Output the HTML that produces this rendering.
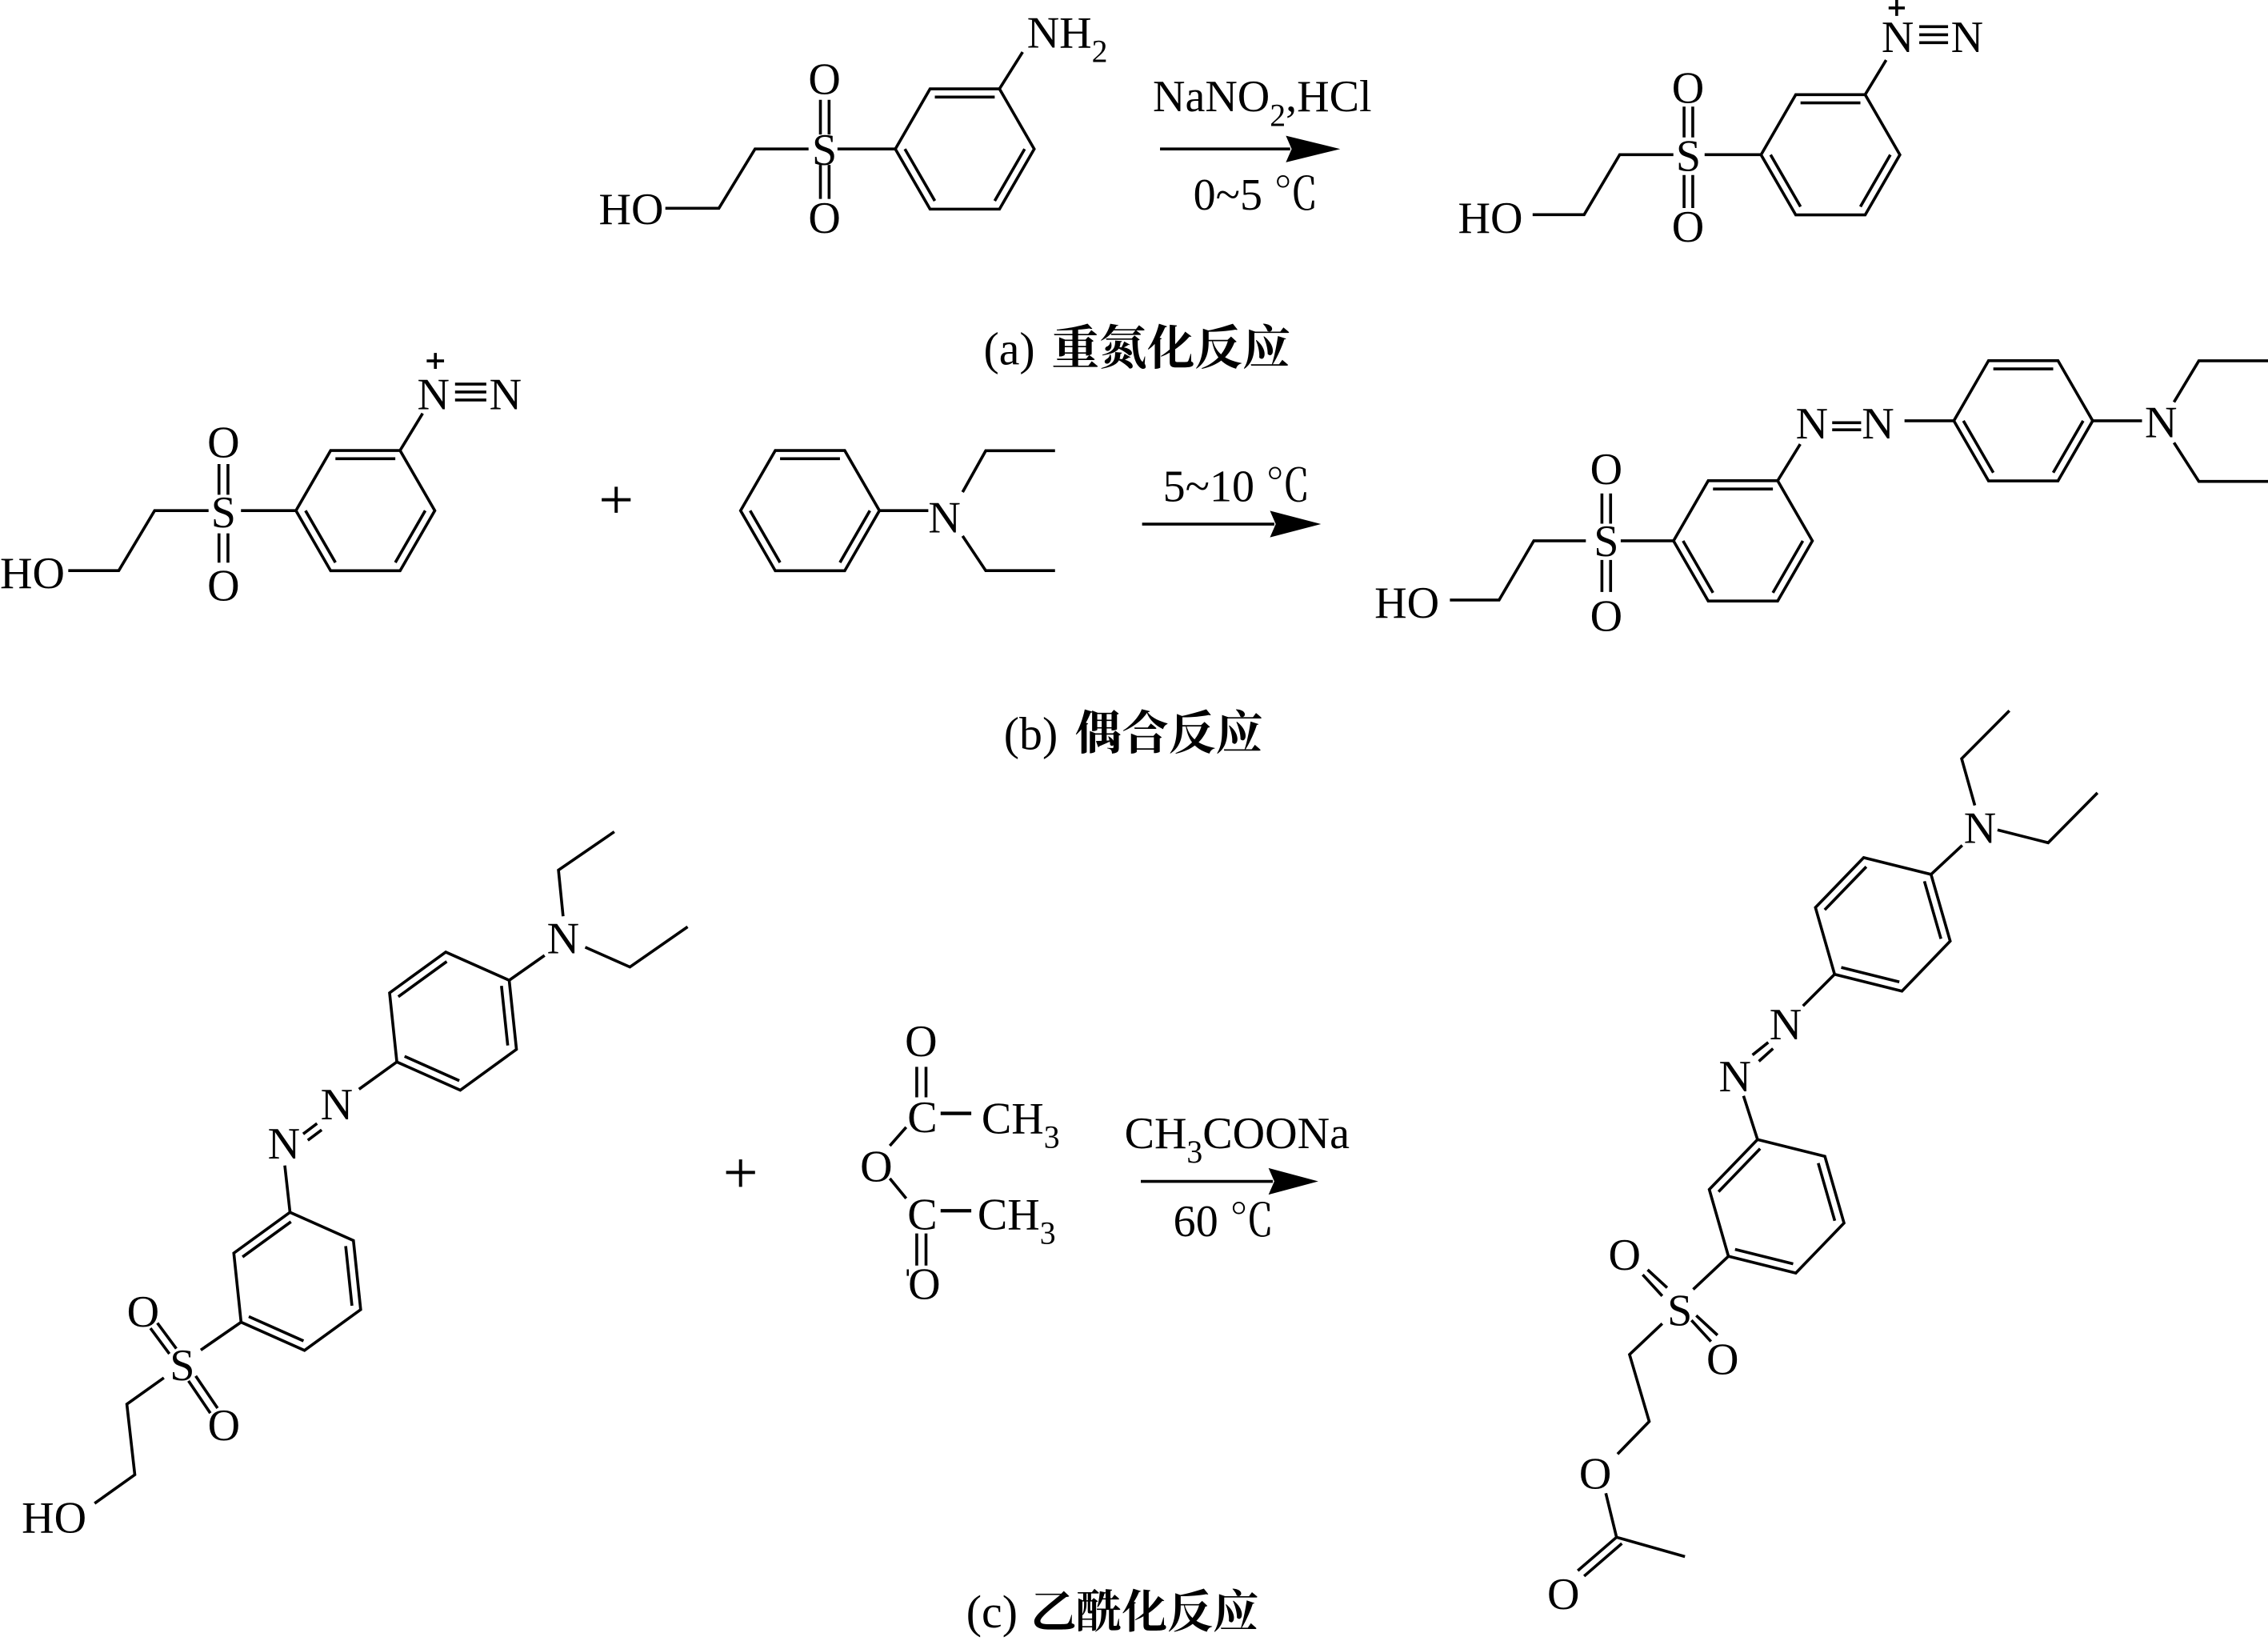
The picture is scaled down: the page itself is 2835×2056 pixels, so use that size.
<!DOCTYPE html>
<html>
<head>
<meta charset="utf-8">
<style>
  html,body{margin:0;padding:0;background:#fff;}
  svg{display:block;}
  .t{font-family:"Liberation Serif","Noto Serif CJK SC",serif;font-size:31px;fill:#000;}
  .c{font-family:"Noto Serif CJK SC","Noto Sans CJK SC",serif;font-weight:bold;fill:#000;}
</style>
</head>
<body>
<svg xmlns="http://www.w3.org/2000/svg" xmlns:xlink="http://www.w3.org/1999/xlink" width="2835" height="2056" viewBox="0 0 1568 1137.2" preserveAspectRatio="none">
<defs>
  <g id="r">
    <path d="M48,0 L24,41.57 L-24,41.57 L-48,0 L-24,-41.57 L24,-41.57 Z"/>
    <path d="M-20.7,-35.87 L20.7,-35.87 M-41.4,0 L-20.7,35.87 M41.4,0 L20.7,35.87"/>
  </g>
</defs>
<rect x="0" y="0" width="1568" height="1137.2" fill="#fff"/>

<g fill="none" stroke="#000" stroke-width="2" stroke-linejoin="miter">
  <!-- ===== Reaction (a) left ===== -->
  <path d="M460,144 L497,144 L522,103 L559,103"/>
  <path d="M579,103 L619,103"/>
  <path d="M567.2,69 L567.2,93 M573.2,69 L573.2,93 M567.2,114 L567.2,137.5 M573.2,114 L573.2,137.5"/>
  <use xlink:href="#r" transform="translate(667,103)"/>
  <path d="M691,61.4 L707,36"/>

  <!-- arrow a -->
  <path d="M802,103 L892,103"/>

  <!-- ===== Reaction (a) product ===== -->
  <path d="M1059.6,148.4 L1095.2,148.4 L1119.8,106.9 L1156.9,106.9"/>
  <path d="M1178.5,106.9 L1217.5,106.9"/>
  <path d="M1164.3,73.7 L1164.3,95 M1170.3,73.7 L1170.3,95 M1164.3,121 L1164.3,143.8 M1170.3,121 L1170.3,143.8"/>
  <use xlink:href="#r" transform="translate(1265.5,107)"/>
  <path d="M1289.5,65.4 L1304,41.5"/>
  <path d="M1326.9,18.4 L1346.8,18.4 M1326.9,24 L1346.8,24 M1326.9,29.5 L1346.8,29.5"/>
  <path d="M1305.7,5.5 L1316.9,5.5 M1311.3,0 L1311.3,11"/>

  <!-- ===== Reaction (b) left ===== -->
  <path d="M47.2,394.5 L82.1,394.5 L106.9,353 L144.2,353"/>
  <path d="M166.6,353 L204.6,353"/>
  <path d="M151.4,320.8 L151.4,342 M157.6,320.8 L157.6,342 M151.4,368.7 L151.4,389 M157.6,368.7 L157.6,389"/>
  <use xlink:href="#r" transform="translate(252.6,353)"/>
  <path d="M276.6,311.4 L292.2,285.8"/>
  <path d="M314.6,265.5 L336.2,265.5 M314.6,271 L336.2,271 M314.6,276.5 L336.2,276.5"/>
  <path d="M295,249.5 L307,249.5 M301,244 L301,255"/>

  <!-- plus b -->
  <path d="M416,345.5 L436,345.5 M426,336.5 L426,354.5" stroke-width="2.2"/>

  <!-- diethylaniline -->
  <use xlink:href="#r" transform="translate(560,353)"/>
  <path d="M608,353 L641.8,353"/>
  <path d="M665.5,340.2 L681.5,311.6 L729.4,311.6"/>
  <path d="M665.5,370.5 L681.5,394.5 L729.4,394.5"/>

  <!-- arrow b -->
  <path d="M789.6,362.3 L881,362.3"/>

  <!-- ===== Reaction (b) product ===== -->
  <path d="M1002.4,414.8 L1036.4,414.8 L1060.4,373.9 L1096.4,373.9"/>
  <path d="M1120.5,373.9 L1157,373.9"/>
  <path d="M1107.5,341.1 L1107.5,362 M1113.5,341.1 L1113.5,362 M1107.5,387.1 L1107.5,409.2 M1113.5,387.1 L1113.5,409.2"/>
  <use xlink:href="#r" transform="translate(1205,373.9)"/>
  <path d="M1229,332.3 L1244.6,307"/>
  <path d="M1266.7,292.2 L1286.7,292.2 M1266.7,297.1 L1286.7,297.1"/>
  <path d="M1316.7,290.9 L1350.8,290.9"/>
  <use xlink:href="#r" transform="translate(1398.8,290.9)"/>
  <path d="M1446.8,290.9 L1480.9,290.9"/>
  <path d="M1503,278 L1520.2,249.4 L1568,249.4"/>
  <path d="M1503,306 L1520.2,332.8 L1568,332.8"/>

  <!-- ===== Reaction (c) left ===== -->
  <path d="M65.4,1039.3 L93.2,1019.5 L87.7,970.7 L113.3,952.5"/>
  <path d="M138.8,933.3 L166.7,914"/>
  <path d="M121.9,932.3 L108.8,914.6 M117.1,935.9 L104,918.2"/>
  <path d="M135.3,951.2 L150.4,973.5 M130.3,954.6 L145.4,976.9"/>
  <use xlink:href="#r" transform="translate(205.5,885.8) rotate(-36)"/>
  <path d="M200.5,838.1 L196.9,805.7"/>
  <path d="M209.6,783.9 L219.2,776.7 M212.8,788.3 L222.4,781.1"/>
  <path d="M248.2,753 L274.4,734.1"/>
  <use xlink:href="#r" transform="translate(313.2,705.9) rotate(-36)"/>
  <path d="M352,677.7 L376.5,660.5"/>
  <path d="M389.3,633.4 L386.1,601.5 L424.7,575"/>
  <path d="M404.6,654.8 L435.5,668.5 L475.4,640.7"/>

  <!-- plus c -->
  <path d="M502,810.5 L522,810.5 M512,801.5 L512,820.5" stroke-width="2.2"/>

  <!-- acetic anhydride -->
  <path d="M633.8,737.5 L633.8,758.6 M640.2,737.5 L640.2,758.6"/>
  <path d="M650.3,769.7 L671.5,769.7" stroke-width="2.4"/>
  <path d="M626.5,779.2 L615.2,792.1"/>
  <path d="M615.2,814.7 L626.5,828.5"/>
  <path d="M650.3,837 L671.5,837" stroke-width="2.4"/>
  <path d="M633.8,852.7 L633.8,874.9 M640.2,852.7 L640.2,874.9"/>
  <path d="M627.6,877.5 L627.6,882" stroke-width="1.4"/>

  <!-- arrow c -->
  <path d="M788.7,816.7 L880,816.7"/>

  <!-- ===== Reaction (c) product ===== -->
  <use xlink:href="#r" transform="translate(1301.7,639) rotate(-46)"/>
  <use xlink:href="#r" transform="translate(1228.3,833.9) rotate(-46)"/>
  <path d="M1268.4,673.5 L1246.5,695.4"/>
  <path d="M1211.6,729.3 L1222.5,720.6 M1216,733.7 L1225.8,724.9"/>
  <path d="M1205.4,757.6 L1215.1,787.8"/>
  <path d="M1195,868.4 L1170.6,891.4"/>
  <path d="M1135.7,881.2 L1149.2,895.9 M1139.1,877.8 L1152.6,890.2"/>
  <path d="M1169.4,912.7 L1182.9,927.4 M1172.7,909.4 L1187.4,923"/>
  <path d="M1149.2,915 L1126.6,936.4 L1140.2,982.7 L1118.3,1005.2"/>
  <path d="M1110.2,1032.3 L1117.6,1062.7 L1164.9,1076.1"/>
  <path d="M1117.6,1062.7 L1090.8,1085.8 M1121.3,1067 L1095.2,1089.6"/>
  <path d="M1335,604.5 L1356.6,584.4"/>
  <path d="M1365.3,556.8 L1356.2,524.5 L1389.2,491.3"/>
  <path d="M1381,573.7 L1416,582.6 L1450.1,548.1"/>
</g>

<!-- arrowheads -->
<g fill="#000" stroke="none">
  <polygon points="926.6,103 889,93.8 893,103 889,112.2"/>
  <polygon points="913.3,362.3 878,353.1 882,362.3 878,371.5"/>
  <polygon points="911.4,816.7 877,807.5 881,816.7 877,825.9"/>
</g>

<!-- ===== TEXT ===== -->
<g class="t">
  <!-- (a) left -->
  <text x="414" y="155">HO</text>
  <text x="570" y="114" text-anchor="middle">S</text>
  <text x="570" y="65" text-anchor="middle">O</text>
  <text x="570" y="161" text-anchor="middle">O</text>
  <text x="710" y="33">NH<tspan font-size="22" dy="10">2</tspan></text>

  <text x="797" y="77">NaNO<tspan font-size="22" dy="10">2</tspan><tspan dy="-10">,HCl</tspan></text>
  <text x="825" y="145">0~5 ℃</text>

  <!-- (a) product -->
  <text x="1008" y="161">HO</text>
  <text x="1167.3" y="118" text-anchor="middle">S</text>
  <text x="1167" y="71" text-anchor="middle">O</text>
  <text x="1167" y="167" text-anchor="middle">O</text>
  <text x="1312" y="36" text-anchor="middle">N</text>
  <text x="1360" y="36" text-anchor="middle">N</text>

  <!-- (b) left -->
  <text x="0" y="406.5">HO</text>
  <text x="154.5" y="364.5" text-anchor="middle">S</text>
  <text x="154.5" y="316" text-anchor="middle">O</text>
  <text x="154.5" y="415" text-anchor="middle">O</text>
  <text x="299.6" y="283" text-anchor="middle">N</text>
  <text x="349.5" y="283" text-anchor="middle">N</text>

  <!-- aniline -->
  <text x="653" y="368" text-anchor="middle">N</text>

  <text x="804" y="346.6">5~10 ℃</text>

  <!-- (b) product -->
  <text x="950.3" y="427">HO</text>
  <text x="1110.5" y="384.5" text-anchor="middle">S</text>
  <text x="1110.5" y="334.5" text-anchor="middle">O</text>
  <text x="1110.5" y="436" text-anchor="middle">O</text>
  <text x="1252.7" y="303" text-anchor="middle">N</text>
  <text x="1298.4" y="303" text-anchor="middle">N</text>
  <text x="1494" y="302.4" text-anchor="middle">N</text>

  <!-- (c) left -->
  <text x="15" y="1059.4">HO</text>
  <text x="126" y="954" text-anchor="middle">S</text>
  <text x="98.9" y="917" text-anchor="middle">O</text>
  <text x="154.8" y="995.5" text-anchor="middle">O</text>
  <text x="196.3" y="800.9" text-anchor="middle">N</text>
  <text x="232.8" y="773.8" text-anchor="middle">N</text>
  <text x="389.3" y="658.9" text-anchor="middle">N</text>

  <!-- anhydride -->
  <text x="636.8" y="730" text-anchor="middle">O</text>
  <text x="637.7" y="782.6" text-anchor="middle">C</text>
  <text x="678.6" y="783.5">CH<tspan font-size="22" dy="10">3</tspan></text>
  <text x="605.8" y="816.8" text-anchor="middle">O</text>
  <text x="637.7" y="849.9" text-anchor="middle">C</text>
  <text x="675.8" y="849.9">CH<tspan font-size="22" dy="10">3</tspan></text>
  <text x="639" y="898" text-anchor="middle">O</text>

  <text x="777.4" y="793.6">CH<tspan font-size="22" dy="10">3</tspan><tspan dy="-10">COONa</tspan></text>
  <text x="811.2" y="854.5">60 ℃</text>

  <!-- (c) product -->
  <text x="1234.5" y="718.4" text-anchor="middle">N</text>
  <text x="1199.5" y="754.4" text-anchor="middle">N</text>
  <text x="1161.3" y="916.2" text-anchor="middle">S</text>
  <text x="1123.2" y="877.8" text-anchor="middle">O</text>
  <text x="1190.9" y="950" text-anchor="middle">O</text>
  <text x="1102.9" y="1029" text-anchor="middle">O</text>
  <text x="1080.9" y="1112.3" text-anchor="middle">O</text>
  <text x="1368.9" y="582.6" text-anchor="middle">N</text>

  <!-- captions -->
  <text x="680" y="252" font-size="32">(a)</text>
  <text x="694" y="518" font-size="32">(b)</text>
  <text x="668" y="1125" font-size="32">(c)</text>
</g>
<g>
  <text class="c" x="727" y="252" font-size="33">重氮化反应</text>
  <text class="c" x="743" y="518" font-size="32.5">偶合反应</text>
  <text class="c" x="712.6" y="1125" font-size="31.5">乙酰化反应</text>
</g>
</svg>
</body>
</html>
